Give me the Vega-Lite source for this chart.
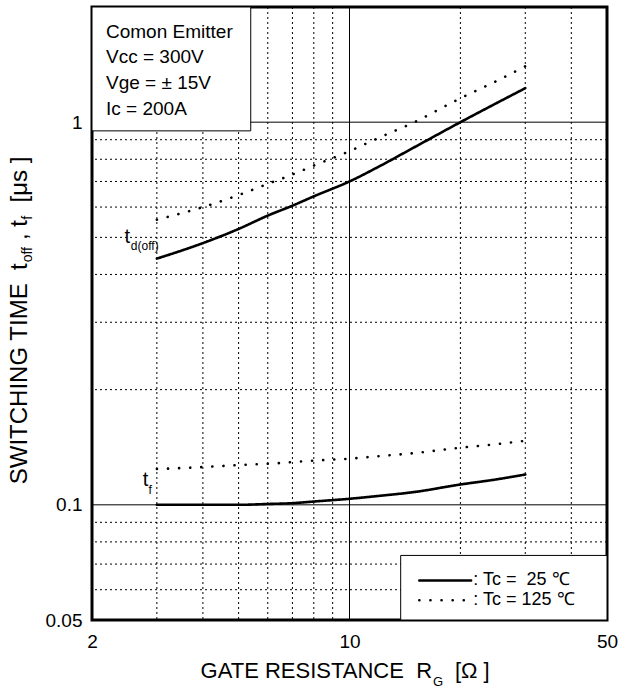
{
  "$schema": "https://vega.github.io/schema/vega-lite/v6.json",
  "width": 515,
  "height": 613,
  "autosize": {"type": "none"},
  "padding": {"left": 92, "top": 7, "right": 20, "bottom": 76},
  "background": "white",
  "resolve": {"scale": {"strokeDash": "independent"}},
  "config": {
    "view": {"stroke": "black", "strokeWidth": 3},
    "font": "Liberation Sans",
    "axis": {"domain": false, "ticks": false, "grid": false, "labelFont": "Liberation Sans", "labelFontSize": 19, "labelColor": "black", "title": null, "labelOverlap": false, "labelFlush": false, "labelBound": false},
    "axisX": {"labelPadding": 12},
    "axisY": {"labelPadding": 10},
    "text": {"font": "Liberation Sans", "color": "black"}
  },
  "datasets": {
    "curves": [
      {"curve": "td25", "tc": "25", "rg": 3, "t": 0.44},
      {"curve": "td25", "tc": "25", "rg": 4, "t": 0.483},
      {"curve": "td25", "tc": "25", "rg": 5, "t": 0.526},
      {"curve": "td25", "tc": "25", "rg": 6, "t": 0.57},
      {"curve": "td25", "tc": "25", "rg": 7, "t": 0.605},
      {"curve": "td25", "tc": "25", "rg": 8, "t": 0.64},
      {"curve": "td25", "tc": "25", "rg": 10, "t": 0.70},
      {"curve": "td25", "tc": "25", "rg": 12, "t": 0.765},
      {"curve": "td25", "tc": "25", "rg": 15, "t": 0.86},
      {"curve": "td25", "tc": "25", "rg": 20, "t": 1.0},
      {"curve": "td25", "tc": "25", "rg": 25, "t": 1.12},
      {"curve": "td25", "tc": "25", "rg": 30, "t": 1.227},
      {"curve": "td125", "tc": "125", "rg": 3, "t": 0.556},
      {"curve": "td125", "tc": "125", "rg": 4, "t": 0.60},
      {"curve": "td125", "tc": "125", "rg": 5, "t": 0.645},
      {"curve": "td125", "tc": "125", "rg": 6, "t": 0.69},
      {"curve": "td125", "tc": "125", "rg": 7, "t": 0.73},
      {"curve": "td125", "tc": "125", "rg": 8, "t": 0.77},
      {"curve": "td125", "tc": "125", "rg": 10, "t": 0.84},
      {"curve": "td125", "tc": "125", "rg": 12, "t": 0.91},
      {"curve": "td125", "tc": "125", "rg": 15, "t": 1.0},
      {"curve": "td125", "tc": "125", "rg": 20, "t": 1.155},
      {"curve": "td125", "tc": "125", "rg": 25, "t": 1.28},
      {"curve": "td125", "tc": "125", "rg": 30, "t": 1.40},
      {"curve": "tf25", "tc": "25", "rg": 3, "t": 0.1},
      {"curve": "tf25", "tc": "25", "rg": 4, "t": 0.1},
      {"curve": "tf25", "tc": "25", "rg": 5, "t": 0.1},
      {"curve": "tf25", "tc": "25", "rg": 6, "t": 0.1005},
      {"curve": "tf25", "tc": "25", "rg": 7, "t": 0.101},
      {"curve": "tf25", "tc": "25", "rg": 8, "t": 0.102},
      {"curve": "tf25", "tc": "25", "rg": 10, "t": 0.1037},
      {"curve": "tf25", "tc": "25", "rg": 12, "t": 0.1055},
      {"curve": "tf25", "tc": "25", "rg": 15, "t": 0.108},
      {"curve": "tf25", "tc": "25", "rg": 20, "t": 0.113},
      {"curve": "tf25", "tc": "25", "rg": 25, "t": 0.1165},
      {"curve": "tf25", "tc": "25", "rg": 30, "t": 0.120},
      {"curve": "tf125", "tc": "125", "rg": 3, "t": 0.124},
      {"curve": "tf125", "tc": "125", "rg": 4, "t": 0.1255},
      {"curve": "tf125", "tc": "125", "rg": 5, "t": 0.127},
      {"curve": "tf125", "tc": "125", "rg": 6, "t": 0.128},
      {"curve": "tf125", "tc": "125", "rg": 8, "t": 0.1305},
      {"curve": "tf125", "tc": "125", "rg": 10, "t": 0.132},
      {"curve": "tf125", "tc": "125", "rg": 12, "t": 0.134},
      {"curve": "tf125", "tc": "125", "rg": 15, "t": 0.1365},
      {"curve": "tf125", "tc": "125", "rg": 20, "t": 0.141},
      {"curve": "tf125", "tc": "125", "rg": 25, "t": 0.144},
      {"curve": "tf125", "tc": "125", "rg": 30, "t": 0.147}
    ],
    "vgrid": [
      {"rg": 3, "kind": "minor"}, {"rg": 4, "kind": "minor"}, {"rg": 5, "kind": "minor"},
      {"rg": 6, "kind": "minor"}, {"rg": 7, "kind": "minor"}, {"rg": 8, "kind": "minor"},
      {"rg": 9, "kind": "minor"}, {"rg": 10, "kind": "major"}, {"rg": 20, "kind": "minor"},
      {"rg": 30, "kind": "minor"}, {"rg": 40, "kind": "minor"}
    ],
    "hgrid": [
      {"t": 0.06, "kind": "minor"}, {"t": 0.07, "kind": "minor"}, {"t": 0.08, "kind": "minor"},
      {"t": 0.09, "kind": "minor"}, {"t": 0.1, "kind": "major"}, {"t": 0.2, "kind": "minor"},
      {"t": 0.3, "kind": "minor"}, {"t": 0.4, "kind": "minor"}, {"t": 0.5, "kind": "minor"},
      {"t": 0.6, "kind": "minor"}, {"t": 0.7, "kind": "minor"}, {"t": 0.8, "kind": "minor"},
      {"t": 0.9, "kind": "minor"}, {"t": 1, "kind": "major"}
    ],
    "infobox": [{"rg": 2, "rg2": 5.394, "t": 2, "t2": 0.9491}],
    "infotext": [
      {"rg": 2.183, "t": 1.663, "label": "Comon Emitter"},
      {"rg": 2.183, "t": 1.426, "label": "Vcc = 300V"},
      {"rg": 2.183, "t": 1.219, "label": "Vge = ± 15V"},
      {"rg": 2.183, "t": 1.045, "label": "Ic = 200A"}
    ],
    "legendbox": [{"rg": 13.77, "rg2": 50, "t": 0.07374, "t2": 0.05}],
    "legendlines": [
      {"tc": "25", "rg": 15.47, "rg2": 21.38, "t": 0.06342},
      {"tc": "125", "rg": 15.47, "rg2": 21.38, "t": 0.05633}
    ],
    "legendtext": [
      {"rg": 21.68, "t": 0.06342, "label": ": Tc =\u00a0\u00a025\u00a0℃"},
      {"rg": 21.68, "t": 0.05633, "label": ": Tc = 125\u00a0℃"}
    ],
    "curvelabel": [
      {"rg": 2.494, "t": 0.5018, "label": "t"},
      {"rg": 2.793, "t": 0.1164, "label": "t"}
    ],
    "curvesub": [
      {"rg": 2.55, "t": 0.4754, "label": "d(off)"},
      {"rg": 2.846, "t": 0.1096, "label": "f"}
    ],
    "xtitlemain": [{"rg": 16.75, "t": 0.03671, "label": "GATE RESISTANCE\u00a0\u00a0R"}],
    "xtitlesub": [{"rg": 16.86, "t": 0.03436, "label": "G"}],
    "xtitletail": [{"rg": 19.33, "t": 0.03671, "label": "[Ω\u00a0]"}],
    "ytitlemain": [{"rg": 1.2754, "t": 0.4277, "label": "SWITCHING TIME\u00a0\u00a0t"}],
    "ytitlesub": [
      {"rg": 1.3408, "t": 0.4302, "label": "off"},
      {"rg": 1.3408, "t": 0.5556, "label": "f"}
    ],
    "ytitletail": [
      {"rg": 1.2754, "t": 0.4918, "label": ", t"},
      {"rg": 1.2754, "t": 0.6167, "label": "[μs\u00a0]"}
    ]
  },
  "layer": [
    {
      "data": {"name": "vgrid"},
      "mark": {"type": "rule", "color": "black", "strokeWidth": 1},
      "encoding": {
        "x": {"field": "rg", "type": "quantitative", "scale": {"type": "log", "domain": [2, 50], "nice": false}, "axis": {"values": [2, 10, 50], "format": "~g"}},
        "strokeDash": {"field": "kind", "type": "nominal", "scale": {"domain": ["major", "minor"], "range": [[1, 0], [2, 3]]}, "legend": null}
      }
    },
    {
      "data": {"name": "hgrid"},
      "mark": {"type": "rule", "color": "black", "strokeWidth": 1},
      "encoding": {
        "y": {"field": "t", "type": "quantitative", "scale": {"type": "log", "domain": [0.05, 2], "nice": false}, "axis": {"values": [0.05, 0.1, 1], "format": "~g"}},
        "strokeDash": {"field": "kind", "type": "nominal", "scale": {"domain": ["major", "minor"], "range": [[1, 0], [2, 3]]}, "legend": null}
      }
    },
    {
      "data": {"name": "curves"},
      "mark": {"type": "line", "color": "black", "strokeWidth": 2.6, "strokeCap": "round", "interpolate": "monotone"},
      "encoding": {
        "x": {"field": "rg", "type": "quantitative", "scale": {"type": "log", "domain": [2, 50], "nice": false}},
        "y": {"field": "t", "type": "quantitative", "scale": {"type": "log", "domain": [0.05, 2], "nice": false}},
        "detail": {"field": "curve", "type": "nominal"},
        "strokeDash": {"field": "tc", "type": "nominal", "scale": {"domain": ["25", "125"], "range": [[1, 0], [0.1, 11]]}, "legend": null}
      }
    },
    {
      "data": {"name": "infobox"},
      "mark": {"type": "rect", "fill": "white", "stroke": "black", "strokeWidth": 1},
      "encoding": {
        "x": {"field": "rg", "type": "quantitative", "scale": {"type": "log", "domain": [2, 50], "nice": false}},
        "x2": {"field": "rg2"},
        "y": {"field": "t", "type": "quantitative", "scale": {"type": "log", "domain": [0.05, 2], "nice": false}},
        "y2": {"field": "t2"}
      }
    },
    {
      "data": {"name": "infotext"},
      "mark": {"type": "text", "align": "left", "baseline": "alphabetic", "fontSize": 19},
      "encoding": {
        "x": {"field": "rg", "type": "quantitative", "scale": {"type": "log", "domain": [2, 50], "nice": false}},
        "y": {"field": "t", "type": "quantitative", "scale": {"type": "log", "domain": [0.05, 2], "nice": false}},
        "text": {"field": "label"}
      }
    },
    {
      "data": {"name": "legendbox"},
      "mark": {"type": "rect", "fill": "white", "stroke": "black", "strokeWidth": 1},
      "encoding": {
        "x": {"field": "rg", "type": "quantitative", "scale": {"type": "log", "domain": [2, 50], "nice": false}},
        "x2": {"field": "rg2"},
        "y": {"field": "t", "type": "quantitative", "scale": {"type": "log", "domain": [0.05, 2], "nice": false}},
        "y2": {"field": "t2"}
      }
    },
    {
      "data": {"name": "legendlines"},
      "mark": {"type": "rule", "color": "black", "strokeWidth": 2.6, "strokeCap": "round"},
      "encoding": {
        "x": {"field": "rg", "type": "quantitative", "scale": {"type": "log", "domain": [2, 50], "nice": false}},
        "x2": {"field": "rg2"},
        "y": {"field": "t", "type": "quantitative", "scale": {"type": "log", "domain": [0.05, 2], "nice": false}},
        "strokeDash": {"field": "tc", "type": "nominal", "scale": {"domain": ["25", "125"], "range": [[1, 0], [0.1, 11]]}, "legend": null}
      }
    },
    {
      "data": {"name": "legendtext"},
      "mark": {"type": "text", "align": "left", "baseline": "middle", "fontSize": 18},
      "encoding": {
        "x": {"field": "rg", "type": "quantitative", "scale": {"type": "log", "domain": [2, 50], "nice": false}},
        "y": {"field": "t", "type": "quantitative", "scale": {"type": "log", "domain": [0.05, 2], "nice": false}},
        "text": {"field": "label"}
      }
    },
    {
      "data": {"name": "curvelabel"},
      "mark": {"type": "text", "align": "center", "baseline": "middle", "fontSize": 20},
      "encoding": {
        "x": {"field": "rg", "type": "quantitative", "scale": {"type": "log", "domain": [2, 50], "nice": false}},
        "y": {"field": "t", "type": "quantitative", "scale": {"type": "log", "domain": [0.05, 2], "nice": false}},
        "text": {"field": "label"}
      }
    },
    {
      "data": {"name": "curvesub"},
      "mark": {"type": "text", "align": "left", "baseline": "middle", "fontSize": 12},
      "encoding": {
        "x": {"field": "rg", "type": "quantitative", "scale": {"type": "log", "domain": [2, 50], "nice": false}},
        "y": {"field": "t", "type": "quantitative", "scale": {"type": "log", "domain": [0.05, 2], "nice": false}},
        "text": {"field": "label"}
      }
    },
    {
      "data": {"name": "xtitlemain"},
      "mark": {"type": "text", "align": "right", "baseline": "middle", "fontSize": 22},
      "encoding": {
        "x": {"field": "rg", "type": "quantitative", "scale": {"type": "log", "domain": [2, 50], "nice": false}},
        "y": {"field": "t", "type": "quantitative", "scale": {"type": "log", "domain": [0.05, 2], "nice": false}},
        "text": {"field": "label"}
      }
    },
    {
      "data": {"name": "xtitlesub"},
      "mark": {"type": "text", "align": "left", "baseline": "middle", "fontSize": 13},
      "encoding": {
        "x": {"field": "rg", "type": "quantitative", "scale": {"type": "log", "domain": [2, 50], "nice": false}},
        "y": {"field": "t", "type": "quantitative", "scale": {"type": "log", "domain": [0.05, 2], "nice": false}},
        "text": {"field": "label"}
      }
    },
    {
      "data": {"name": "xtitletail"},
      "mark": {"type": "text", "align": "left", "baseline": "middle", "fontSize": 22},
      "encoding": {
        "x": {"field": "rg", "type": "quantitative", "scale": {"type": "log", "domain": [2, 50], "nice": false}},
        "y": {"field": "t", "type": "quantitative", "scale": {"type": "log", "domain": [0.05, 2], "nice": false}},
        "text": {"field": "label"}
      }
    },
    {
      "data": {"name": "ytitlemain"},
      "mark": {"type": "text", "align": "right", "baseline": "middle", "fontSize": 24, "angle": 270},
      "encoding": {
        "x": {"field": "rg", "type": "quantitative", "scale": {"type": "log", "domain": [2, 50], "nice": false}},
        "y": {"field": "t", "type": "quantitative", "scale": {"type": "log", "domain": [0.05, 2], "nice": false}},
        "text": {"field": "label"}
      }
    },
    {
      "data": {"name": "ytitlesub"},
      "mark": {"type": "text", "align": "left", "baseline": "middle", "fontSize": 14, "angle": 270},
      "encoding": {
        "x": {"field": "rg", "type": "quantitative", "scale": {"type": "log", "domain": [2, 50], "nice": false}},
        "y": {"field": "t", "type": "quantitative", "scale": {"type": "log", "domain": [0.05, 2], "nice": false}},
        "text": {"field": "label"}
      }
    },
    {
      "data": {"name": "ytitletail"},
      "mark": {"type": "text", "align": "left", "baseline": "middle", "fontSize": 24, "angle": 270},
      "encoding": {
        "x": {"field": "rg", "type": "quantitative", "scale": {"type": "log", "domain": [2, 50], "nice": false}},
        "y": {"field": "t", "type": "quantitative", "scale": {"type": "log", "domain": [0.05, 2], "nice": false}},
        "text": {"field": "label"}
      }
    }
  ]
}
